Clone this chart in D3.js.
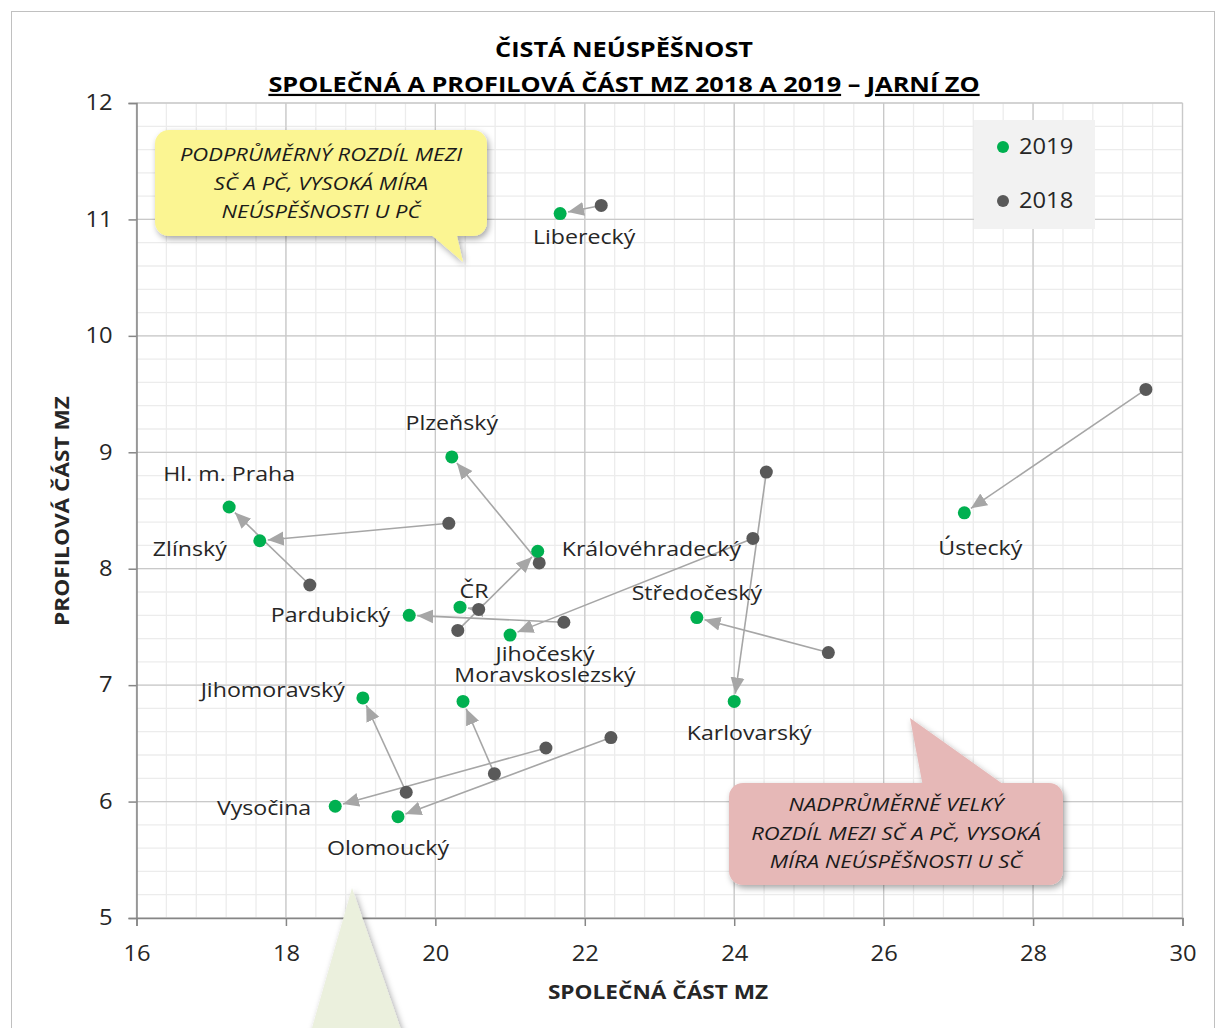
<!DOCTYPE html>
<html>
<head>
<meta charset="utf-8">
<script src="https://cdn.jsdelivr.net/npm/d3@7"></script>
<style>
  body { margin: 0; background: #fff; }
  svg { display: block; font-family: "Open Sans", Lato, sans-serif; }
</style>
</head>
<body>
<div id="chart"></div>
<script>
// data (2018 = gray, 2019 = green)
const regions = ["Liberecký", "Ústecký", "Karlovarský", "Jihočeský", "Zlínský", "Hl. m. Praha",
                 "Plzeňský", "Královéhradecký", "ČR", "Pardubický", "Středočeský", "Jihomoravský",
                 "Moravskoslezský", "Vysočina", "Olomoucký"];
const sc2018 = [22.22, 29.51, 24.43, 24.25, 20.18, 18.32, 21.39, 20.30, 20.58, 21.72, 25.26, 19.61, 20.79, 21.48, 22.35];
const pc2018 = [11.12, 9.54, 8.83, 8.26, 8.39, 7.86, 8.05, 7.47, 7.65, 7.54, 7.28, 6.08, 6.24, 6.46, 6.55];
const sc2019 = [21.67, 27.08, 24.00, 21.00, 17.65, 17.24, 20.22, 21.37, 20.33, 19.65, 23.50, 19.03, 20.37, 18.66, 19.50];
const pc2019 = [11.05, 8.48, 6.86, 7.43, 8.24, 8.53, 8.96, 8.15, 7.67, 7.60, 7.58, 6.89, 6.86, 5.96, 5.87];
const xTicks = [16, 18, 20, 22, 24, 26, 28, 30];
const yTicks = [5, 6, 7, 8, 9, 10, 11, 12];
const seriesNames = ["2019", "2018"];

// label placement relative to the 2019 point: [dx, dy, anchor]
const labelPlace = {
  "Liberecký": [24, 23, "middle"], "Ústecký": [16, 35, "middle"], "Karlovarský": [15, 31, "middle"],
  "Jihočeský": [35, 19, "middle"], "Zlínský": [-33, 8, "end"], "Hl. m. Praha": [0, -33, "middle"],
  "Plzeňský": [0, -34, "middle"], "Královéhradecký": [24, -2, "start"], "ČR": [14, -16, "middle"],
  "Pardubický": [-19, 0, "end"], "Středočeský": [0, -25, "middle"], "Jihomoravský": [-18, -8, "end"],
  "Moravskoslezský": [82, -27, "middle"], "Vysočina": [-24, 2, "end"], "Olomoucký": [-10, 31, "middle"]
};

const W = 1224, H = 1028;
const green = "#00b050", gray = "#595959", arrowCol = "#a6a6a6";
const txt = "#262626";
const sx = 1.13; // the source picture is a little wider than it is tall

const svg = d3.select("#chart").append("svg").attr("width", W).attr("height", H);
const defs = svg.append("defs");

defs.append("marker").attr("id", "arrow")
    .attr("markerUnits", "userSpaceOnUse")
    .attr("markerWidth", 18).attr("markerHeight", 16)
    .attr("viewBox", "0 -8 18 16").attr("refX", 16).attr("refY", 0)
    .attr("orient", "auto")
  .append("path").attr("d", "M0,-7L16,0L0,7Z").attr("fill", arrowCol);

const shadow = defs.append("filter").attr("id", "shadow")
    .attr("x", "-20%").attr("y", "-20%").attr("width", "140%").attr("height", "150%");
shadow.append("feDropShadow").attr("dx", 2).attr("dy", 3).attr("stdDeviation", 3)
    .attr("flood-color", "#000").attr("flood-opacity", 0.35);

// outer chart border
svg.append("rect").attr("x", 11.5).attr("y", 11.5).attr("width", 1203).attr("height", 1040)
   .attr("fill", "none").attr("stroke", "#c0c0c0");

const x = d3.scaleLinear().domain([16, 30]).range([136.5, 1182.5]);
const y = d3.scaleLinear().domain([5, 12]).range([918, 103]);

// minor grid
const g = svg.append("g");
g.selectAll(".vminor").data(d3.range(16, 30.001, 0.4)).enter().append("line")
  .attr("x1", d => x(d)).attr("x2", d => x(d)).attr("y1", y(5)).attr("y2", y(12))
  .attr("stroke", "#ececec").attr("stroke-width", 1.3);
g.selectAll(".hminor").data(d3.range(5, 12.001, 0.2)).enter().append("line")
  .attr("x1", x(16)).attr("x2", x(30)).attr("y1", d => y(d)).attr("y2", d => y(d))
  .attr("stroke", "#ececec").attr("stroke-width", 1.3);
// major grid
g.selectAll(".vmajor").data(xTicks).enter().append("line")
  .attr("x1", d => x(d)).attr("x2", d => x(d)).attr("y1", y(5)).attr("y2", y(12))
  .attr("stroke", "#c9c9c9").attr("stroke-width", 1.3);
g.selectAll(".hmajor").data(yTicks).enter().append("line")
  .attr("x1", x(16)).attr("x2", x(30)).attr("y1", d => y(d)).attr("y2", d => y(d))
  .attr("stroke", "#c9c9c9").attr("stroke-width", 1.3);

// axes
const xAxis = svg.append("g").attr("transform", "translate(0," + y(5) + ")")
  .call(d3.axisBottom(x).tickValues(xTicks).tickFormat(d3.format("d")).tickSize(8).tickPadding(20));
const yAxis = svg.append("g").attr("transform", "translate(" + x(16) + ",0)")
  .call(d3.axisLeft(y).tickValues(yTicks).tickFormat(d3.format("d")).tickSize(8).tickPadding(16));
[xAxis, yAxis].forEach(a => {
  a.select(".domain").attr("stroke", "#868686").attr("stroke-width", 1.5);
  a.selectAll(".tick line").attr("stroke", "#868686").attr("stroke-width", 1.5);
  a.selectAll("text").attr("font-size", 21).attr("fill", txt).attr("font-family", "Open Sans")
    .attr("transform", "scale(" + sx + ",1)");
});
yAxis.selectAll("text").attr("x", -24 / sx);

// arrows from 2018 to 2019
const pts = regions.map((r, i) => ({ name: r, x0: x(sc2018[i]), y0: y(pc2018[i]), x1: x(sc2019[i]), y1: y(pc2019[i]) }));
svg.append("g").selectAll("line").data(pts).enter().append("line")
  .each(function(d) {
    const dx = d.x1 - d.x0, dy = d.y1 - d.y0, len = Math.hypot(dx, dy);
    const cut = 8;
    d3.select(this).attr("x1", d.x0).attr("y1", d.y0)
      .attr("x2", d.x0 + dx * (len - cut) / len).attr("y2", d.y0 + dy * (len - cut) / len);
  })
  .attr("stroke", arrowCol).attr("stroke-width", 1.6).attr("marker-end", "url(#arrow)");

// points
svg.append("g").selectAll("circle").data(pts).enter().append("circle")
  .attr("cx", d => d.x0).attr("cy", d => d.y0).attr("r", 6.5).attr("fill", gray);
svg.append("g").selectAll("circle").data(pts).enter().append("circle")
  .attr("cx", d => d.x1).attr("cy", d => d.y1).attr("r", 6.5).attr("fill", green);

// labels
svg.append("g").selectAll("text").data(pts).enter().append("text")
  .attr("transform", d => "translate(" + (d.x1 + labelPlace[d.name][0]) + "," +
                          (d.y1 + labelPlace[d.name][1]) + ") scale(" + sx + ",1)")
  .attr("dy", "0.35em")
  .attr("text-anchor", d => labelPlace[d.name][2])
  .attr("font-size", 20.5).attr("fill", txt)
  .text(d => d.name);

// legend
const lg = svg.append("g");
lg.append("rect").attr("x", 974).attr("y", 120).attr("width", 121).attr("height", 109).attr("fill", "#f2f2f2");
seriesNames.forEach((s, i) => {
  lg.append("circle").attr("cx", 1003).attr("cy", 147 + i * 54).attr("r", 6).attr("fill", i === 0 ? green : gray);
  lg.append("text").attr("transform", "translate(1019," + (147 + i * 54) + ") scale(" + sx + ",1)")
    .attr("dy", "0.35em").attr("font-size", 21).attr("fill", txt).text(s);
});

// titles
const title = svg.append("g").attr("font-weight", "bold").attr("fill", "#000").attr("text-anchor", "middle");
title.append("text").attr("transform", "translate(624,57) scale(1.15,1)").attr("font-size", 22)
  .text("ČISTÁ NEÚSPĚŠNOST");
const t2 = title.append("text").attr("transform", "translate(624,92) scale(1.15,1)").attr("font-size", 22);
t2.append("tspan").style("text-decoration", "underline").text("SPOLEČNÁ A PROFILOVÁ ČÁST MZ 2018 A 2019");
t2.append("tspan").text(" – ");
t2.append("tspan").style("text-decoration", "underline").text("JARNÍ ZO");

svg.append("text").attr("transform", "translate(658,992) scale(1.16,1)").attr("dy", "0.35em")
  .attr("text-anchor", "middle").attr("font-weight", "bold").attr("font-size", 19.5).attr("fill", txt)
  .text("SPOLEČNÁ ČÁST MZ");
svg.append("text").attr("transform", "translate(62,511) rotate(-90) scale(1.16,1)").attr("dy", "0.35em")
  .attr("text-anchor", "middle").attr("font-weight", "bold").attr("font-size", 19.5).attr("fill", txt)
  .text("PROFILOVÁ ČÁST MZ");

// callouts
function callout(rect, tail, fill, lines, cx, y0, step) {
  const c = svg.append("g");
  const shape = c.append("g").attr("filter", "url(#shadow)");
  shape.append("rect").attr("x", rect[0]).attr("y", rect[1]).attr("width", rect[2]).attr("height", rect[3])
    .attr("rx", 14).attr("fill", fill);
  shape.append("path").attr("d", "M" + tail.join("L") + "Z").attr("fill", fill);
  lines.forEach((t, i) => {
    c.append("text").attr("transform", "translate(" + cx + "," + (y0 + i * step) + ") scale(1.19,1)")
      .attr("dy", "0.35em")
      .attr("text-anchor", "middle").attr("font-style", "italic").attr("font-size", 18.5)
      .attr("fill", "#1a1a1a").text(t);
  });
}
callout([155, 130, 332, 106], [[428, 232], [463, 262], [456, 232]], "#fbf592",
  ["PODPRŮMĚRNÝ ROZDÍL MEZI", "SČ A PČ, VYSOKÁ MÍRA", "NEÚSPĚŠNOSTI U PČ"], 321, 155, 28.5);
callout([729, 783, 334, 102], [[923, 787], [910, 718], [1007, 787]], "#e6b8b7",
  ["NADPRŮMĚRNĚ VELKÝ", "ROZDÍL MEZI SČ A PČ, VYSOKÁ", "MÍRA NEÚSPĚŠNOSTI U SČ"], 896, 805, 28.5);
svg.append("path").attr("d", "M352,888L300,1070L415,1070Z").attr("fill", "#ebf0dd")
  .attr("filter", "url(#shadow)");
</script>
</body>
</html>
